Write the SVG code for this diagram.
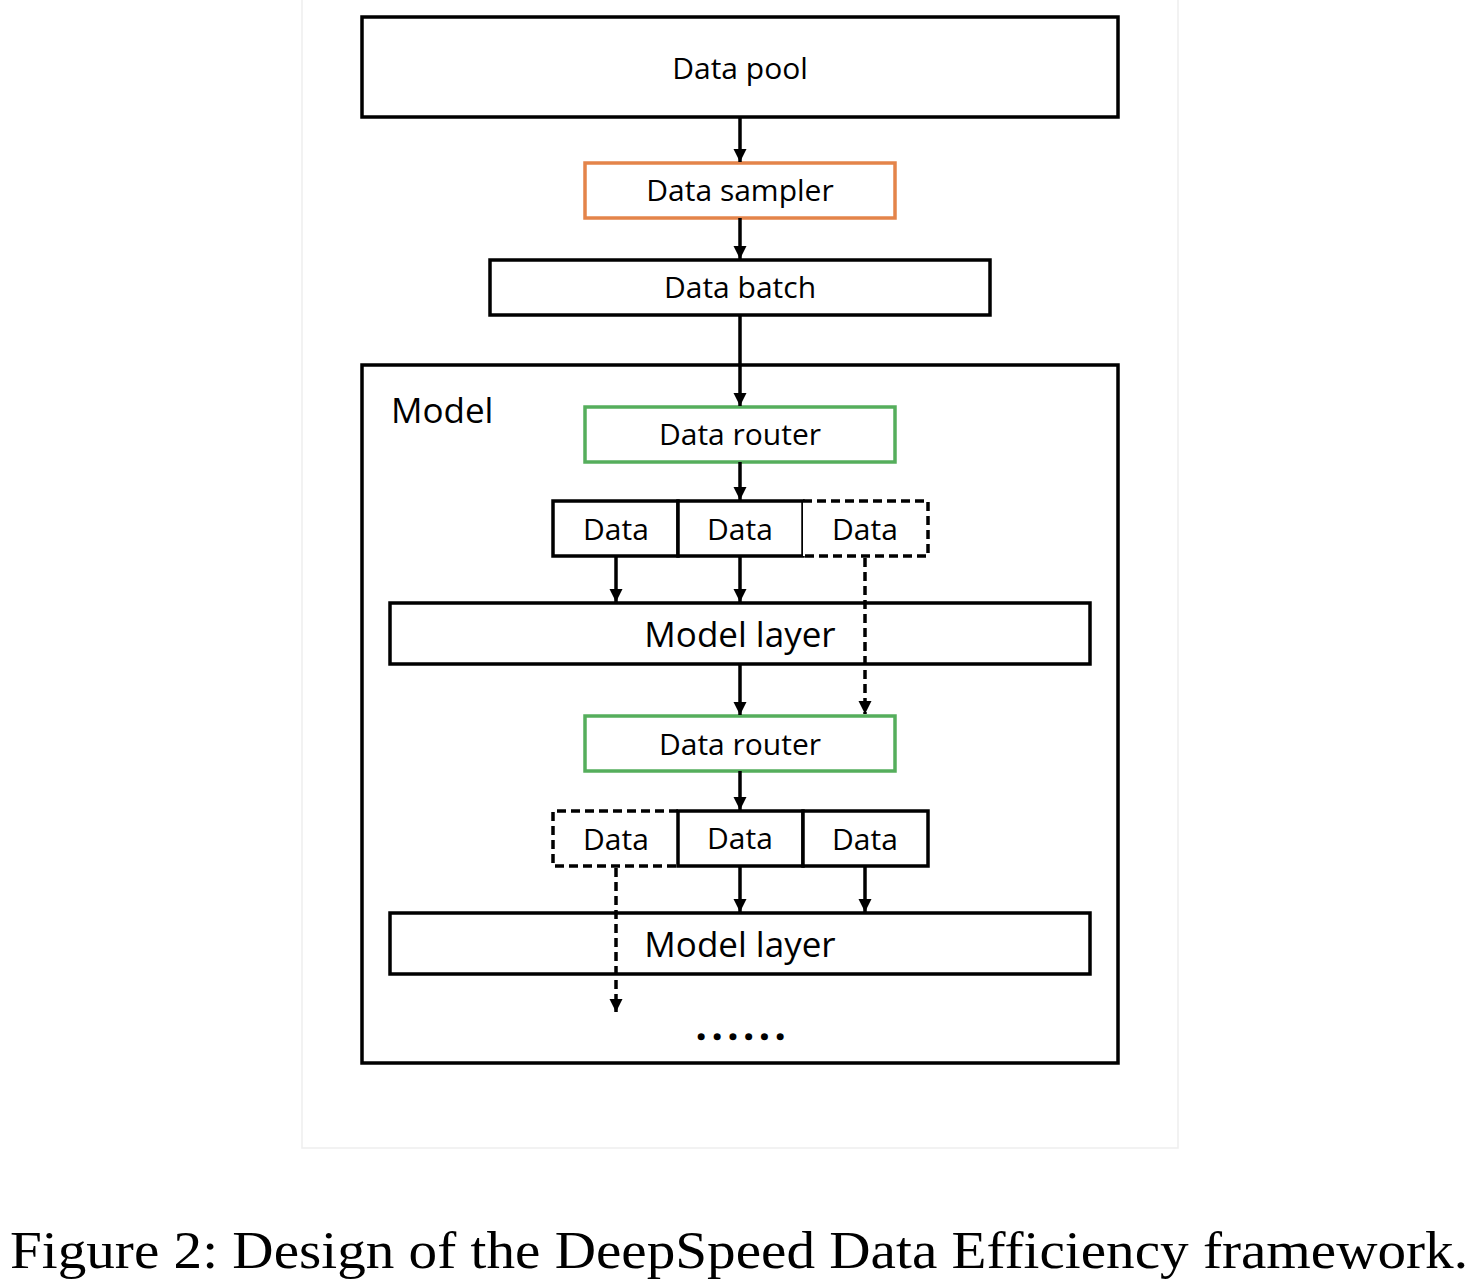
<svg xmlns="http://www.w3.org/2000/svg" width="1478" height="1286" viewBox="0 0 1478 1286">
<defs>
<marker id="ah" viewBox="0 0 10 10" refX="10" refY="5" markerWidth="3.8" markerHeight="4" orient="auto" markerUnits="strokeWidth">
<path d="M0,0 L10,5 L0,10 Z" fill="#000"/>
</marker>
</defs>
<style>
.box{fill:#fff;stroke:#000;stroke-width:3.5}
.dash{fill:#fff;stroke:#000;stroke-width:3.5;stroke-dasharray:9 5}
.orange{fill:#fff;stroke:#E4844A;stroke-width:3.5}
.green{fill:#fff;stroke:#55AE5C;stroke-width:3.5}
.t{font-family:"Open Sans","Noto Sans","DejaVu Sans",sans-serif;font-size:30px;fill:#000;text-anchor:middle}
.big{font-size:35px}
.ln{fill:none;stroke:#000;stroke-width:3.5;marker-end:url(#ah)}
.ld{fill:none;stroke:#000;stroke-width:3.5;stroke-dasharray:9 5;marker-end:url(#ah)}
</style>
<rect x="0" y="0" width="1478" height="1286" fill="#fff"/>
<rect x="302" y="-2" width="876" height="1150" fill="#fff" stroke="#eeeeee" stroke-width="1.5"/>
<g id="model">
<rect class="box" x="362" y="365" width="756" height="698"/>
<text class="t big" x="391" y="423" style="text-anchor:start">Model</text>
</g>
<g id="data-pool">
<rect class="box" x="362" y="17" width="756" height="100"/>
<text class="t" x="740" y="79">Data pool</text>
</g>
<g id="data-sampler">
<rect class="orange" x="585" y="163" width="310" height="55"/>
<text class="t" x="740" y="201">Data sampler</text>
</g>
<g id="data-batch">
<rect class="box" x="490" y="260" width="500" height="55"/>
<text class="t" x="740" y="298">Data batch</text>
</g>
<g id="data-router-1">
<rect class="green" x="585" y="407" width="310" height="55"/>
<text class="t" x="740" y="445">Data router</text>
</g>
<g id="data-1a">
<rect class="box" x="553" y="501" width="125" height="55"/>
<text class="t" x="616" y="540">Data</text>
</g>
<g id="data-1b">
<rect class="box" x="678" y="501" width="125" height="55"/>
<text class="t" x="740" y="540">Data</text>
</g>
<g id="data-1c">
<path class="dash" d="M803,501 H928 V556 H803"/>
<text class="t" x="865" y="540">Data</text>
</g>
<g id="model-layer-1">
<rect class="box" x="390" y="603" width="700" height="61"/>
<text class="t big" x="740" y="647">Model layer</text>
</g>
<g id="data-router-2">
<rect class="green" x="585" y="716" width="310" height="55"/>
<text class="t" x="740" y="755">Data router</text>
</g>
<g id="data-2a">
<path class="dash" d="M678,811 H553 V866 H678"/>
<text class="t" x="616" y="850">Data</text>
</g>
<g id="data-2b">
<rect class="box" x="678" y="811" width="125" height="55"/>
<text class="t" x="740" y="849">Data</text>
</g>
<g id="data-2c">
<rect class="box" x="803" y="811" width="125" height="55"/>
<text class="t" x="865" y="850">Data</text>
</g>
<g id="model-layer-2">
<rect class="box" x="390" y="913" width="700" height="61"/>
<text class="t big" x="740" y="957">Model layer</text>
</g>
<g id="ellipsis">
<text x="745" y="1039" style="font-family:'Noto Sans',sans-serif;font-size:26px;font-weight:bold;text-anchor:middle;letter-spacing:8.5px;stroke:#000;stroke-width:2.5;stroke-linejoin:round">......</text>
</g>
<g id="connectors">
<path class="ln" d="M740,117 V162"/>
<path class="ln" d="M740,218 V259"/>
<path class="ln" d="M740,315 V406"/>
<path class="ln" d="M740,462 V500"/>
<path class="ln" d="M616,556 V602"/>
<path class="ln" d="M740,556 V602"/>
<path class="ld" d="M865,558 V714"/>
<path class="ln" d="M740,664 V715"/>
<path class="ln" d="M740,771 V810"/>
<path class="ln" d="M740,866 V912"/>
<path class="ln" d="M865,866 V912"/>
<path class="ld" d="M616,868 V1012"/>
</g>
<text x="739" y="1268" style="font-family:'Liberation Serif','Times New Roman',serif;font-size:52px;text-anchor:middle" textLength="1458" lengthAdjust="spacingAndGlyphs">Figure 2: Design of the DeepSpeed Data Efficiency framework.</text>
</svg>
